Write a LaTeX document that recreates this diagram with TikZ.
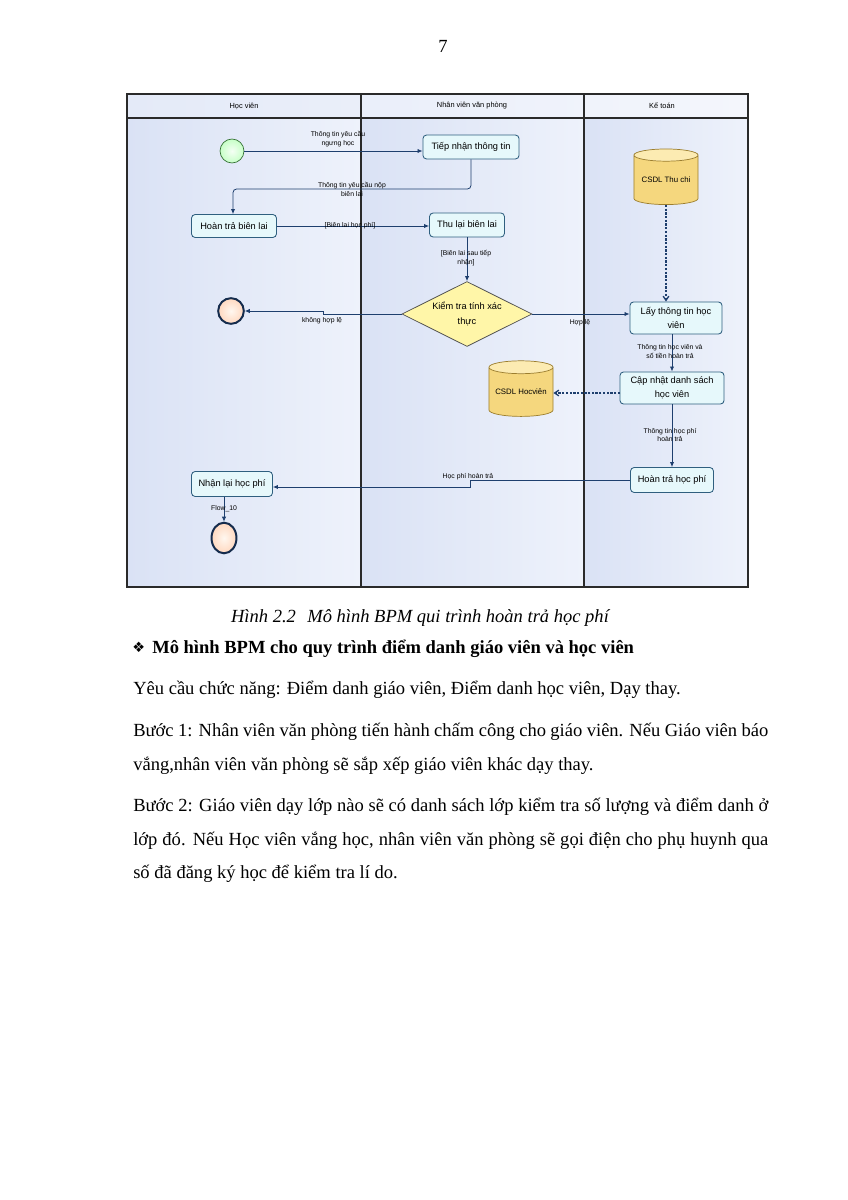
\documentclass[tikz,border=0pt]{standalone}
\usepackage{fontspec}
\setmainfont{Liberation Serif}
\newfontfamily\diag{Liberation Sans}
\newfontfamily\dejavu{DejaVu Sans}
\usetikzlibrary{shapes.geometric,arrows.meta}

\definecolor{laneA}{HTML}{DAE2F5}
\definecolor{laneB}{HTML}{EEF2FB}
\definecolor{headA}{HTML}{E4EAF8}
\definecolor{headB}{HTML}{F4F6FC}
\definecolor{navy}{HTML}{1E3F6E}
\definecolor{boxborder}{HTML}{2F5F7F}
\definecolor{boxfill}{HTML}{E6F8FB}
\definecolor{dbbody}{HTML}{F5D77E}
\definecolor{dbtop}{HTML}{FCEBB2}
\definecolor{dbline}{HTML}{9C7E2E}
\definecolor{diafill}{HTML}{FFF6A8}
\definecolor{frame}{HTML}{2A2A2A}

\tikzset{
  task/.style={draw=boxborder, fill=boxfill, rounded corners=2.5pt, line width=0.6pt,
    inner sep=1pt, align=center, font=\diag\fontsize{6.5}{9.5}\selectfont},
  decision/.style={diamond, aspect=2, draw=black!70, fill=diafill, line width=0.5pt, inner sep=0pt,
    minimum width=91.2pt, minimum height=45.6pt, align=center, font=\diag\fontsize{6.5}{10.5}\selectfont},
  db/.style={cylinder, shape border rotate=90, aspect=0.25, draw=dbline, line width=0.5pt,
    cylinder uses custom fill, cylinder body fill=dbbody, cylinder end fill=dbtop,
    minimum width=45pt, minimum height=39pt, inner sep=0pt, font=\diag\fontsize{5.5}{6.5}\selectfont},
  startev/.style={circle, minimum size=16.8pt, inner sep=0pt, draw=green!30!black!80, line width=0.5pt,
    inner color=green!4, outer color=green!22},
  endev/.style={circle, minimum size=18pt, inner sep=0pt, draw=navy!70!black, line width=1.4pt,
    inner color=orange!6, outer color=red!22!orange!25},
  endevB/.style={endev, ellipse, minimum width=17.5pt, minimum height=21.5pt},
  flow/.style={draw=navy, line width=0.55pt, -{Latex[length=3.5pt,width=3pt]}},
  dflow/.style={flow, line width=0.9pt, dash pattern=on 1.6pt off 1pt, -{Straight Barb[length=3pt,width=4pt]}},
  elabel/.style={font=\diag\fontsize{4.8}{6.3}\selectfont, align=center, inner sep=0.5pt},
  lanehead/.style={font=\diag\fontsize{5.2}{6}\selectfont, inner sep=0pt},
  body/.style={anchor=base west, inner sep=0pt, font=\fontsize{13}{15}\selectfont},
}

\begin{document}
\begin{tikzpicture}[x=0.7017pt, y=-0.7017pt]
\useasboundingbox (0,0) rectangle (848,1200);
\fill[white] (0,0) rectangle (848,1200);

% page number
\node[anchor=base, inner sep=0pt, font=\fontsize{13}{15}\selectfont] (pnum) at (443,53) {7};

% ---------------- swimlanes ----------------
\shade[left color=laneA, right color=laneB] (127,118) rectangle (361,587);
\shade[left color=laneA, right color=laneB] (361,118) rectangle (584,587);
\shade[left color=laneA, right color=laneB] (584,118) rectangle (748,587);
\shade[left color=headA, right color=headB] (127,94) rectangle (748,118);
\draw[frame, line width=0.8pt] (127,94) rectangle (748,587);
\draw[frame, line width=0.8pt] (127,118) -- (748,118);
\draw[frame, line width=0.8pt] (361,94) -- (361,587);
\draw[frame, line width=0.8pt] (584,94) -- (584,587);

\node[lanehead] (h1) at (244,106) {Học viên};
\node[lanehead] (h2) at (472,106) {Nhân viên văn phòng};
\node[lanehead] (h3) at (662,106) {Kế toán};

% ---------------- nodes ----------------
\node[startev] (start) at (232,151) {};
\node[task, minimum width=67.4pt, minimum height=16.8pt] (tiep) at (471,147) {Tiếp nhận thông tin};
\node[task, minimum width=59.6pt, minimum height=16.1pt] (hoan) at (234,226) {Hoàn trả biên lai};
\node[task, minimum width=52.6pt, minimum height=16.8pt] (thu) at (467,225) {Thu lại biên lai};
\node[decision] (dia) at (467,314) {Kiểm tra tính xác\\thực};
\node[endev] (end1) at (231,311) {};
\node[db] (thuchi) at (666,180) {CSDL Thu chi};
\node[task, minimum width=64.6pt, minimum height=22.5pt] (lay) at (676,318) {Lấy thông tin học\\viên};
\node[task, minimum width=73pt, minimum height=22.5pt] (cap) at (672,388) {Cập nhật danh sách\\học viên};
\node[db] (hv) at (521,392) {CSDL Hocviên};
\node[task, minimum width=58.2pt, minimum height=17.5pt] (hthp) at (672,480) {Hoàn trả học phí};
\node[task, minimum width=56.8pt, minimum height=17.5pt] (nhan) at (232,484) {Nhận lại học phí};
\node[endevB] (end2) at (224,538) {};

% ---------------- connectors ----------------
\draw[flow] (start.east) -- (tiep.west |- start.east);
\coordinate (j1) at (233,189);
\draw[flow, rounded corners=2.5pt] (tiep.south) |- (j1) -- (hoan.north -| j1);
\draw[flow] (hoan.east) -- (thu.west |- hoan.east);
\draw[flow] (thu.south) -- (dia.north);
\coordinate (j2) at (323,314);
\coordinate (j3) at (323,311);
\draw[flow] (dia.west) -- (j2) -- (j3) -- (end1.east |- j3);
\draw[flow] (dia.east) -- (lay.west |- dia.east);
\draw[dflow] (thuchi.south) -- (lay.north -| thuchi.south);
\draw[flow] (lay.south -| cap.north) -- (cap.north);
\coordinate (j4) at (620,393);
\draw[dflow] (j4) -- (hv.east |- j4);
\draw[flow] (cap.south) -- (hthp.north);
\coordinate (j5) at (470,480);
\coordinate (j6) at (470,487);
\draw[flow] (hthp.west) -- (j5) -- (j6) -- (nhan.east |- j6);
\draw[flow] (nhan.south -| end2.north) -- (end2.north);

% ---------------- connector labels ----------------
\node[elabel] (l1) at (338,139) {Thông tin yêu cầu\\ngưng học};
\node[elabel] (l2) at (352,189) {Thông tin yêu cầu nộp\\biên lai};
\node[elabel] (l3) at (350,226) {[Biên lai học phí]};
\node[elabel] (l4) at (466,258) {[Biên lai sau tiếp\\nhận]};
\node[elabel] (l5) at (322,321) {không hợp lệ};
\node[elabel] (l6) at (580,323) {Hợp lệ};
\node[elabel] (l7) at (670,352) {Thông tin học viên và\\số tiền hoàn trả};
\node[elabel] (l8) at (670,435) {Thông tin học phí\\hoàn trả};
\node[elabel] (l9) at (468,477) {Học phí hoàn trả};
\node[elabel] (l10) at (224,509) {Flow\_10};

% ---------------- text below ----------------
\node[anchor=base, inner sep=0pt, font=\itshape\fontsize{13}{15}\selectfont] (cap1) at (420,622)
  {Hình 2.2\hspace{8pt}Mô hình BPM qui trình hoàn trả học phí};
\node[anchor=base west, inner sep=0pt, font=\dejavu\fontsize{10}{12}\selectfont] (bul) at (132,652) {❖};
\node[body] (t0) at (152,653) {\bfseries Mô hình BPM cho quy trình điểm danh giáo viên và học viên};
\node[body] (t1) at (133,694) {Yêu cầu chức năng: Điểm danh giáo viên, Điểm danh học viên, Dạy thay.};
\node[body] (t2) at (133,736) {\makebox[445.6pt][s]{Bước 1: Nhân viên văn phòng tiến hành chấm công cho giáo viên. Nếu Giáo viên báo}};
\node[body] (t3) at (133,770) {vắng,nhân viên văn phòng sẽ sắp xếp giáo viên khác dạy thay.};
\node[body] (t4) at (133,811) {\makebox[445.6pt][s]{Bước 2: Giáo viên dạy lớp nào sẽ có danh sách lớp kiểm tra số lượng và điểm danh ở}};
\node[body] (t5) at (133,845) {\makebox[445.6pt][s]{lớp đó. Nếu Học viên vắng học, nhân viên văn phòng sẽ gọi điện cho phụ huynh qua}};
\node[body] (t6) at (133,878) {số đã đăng ký học để kiểm tra lí do.};
\end{tikzpicture}
\end{document}
